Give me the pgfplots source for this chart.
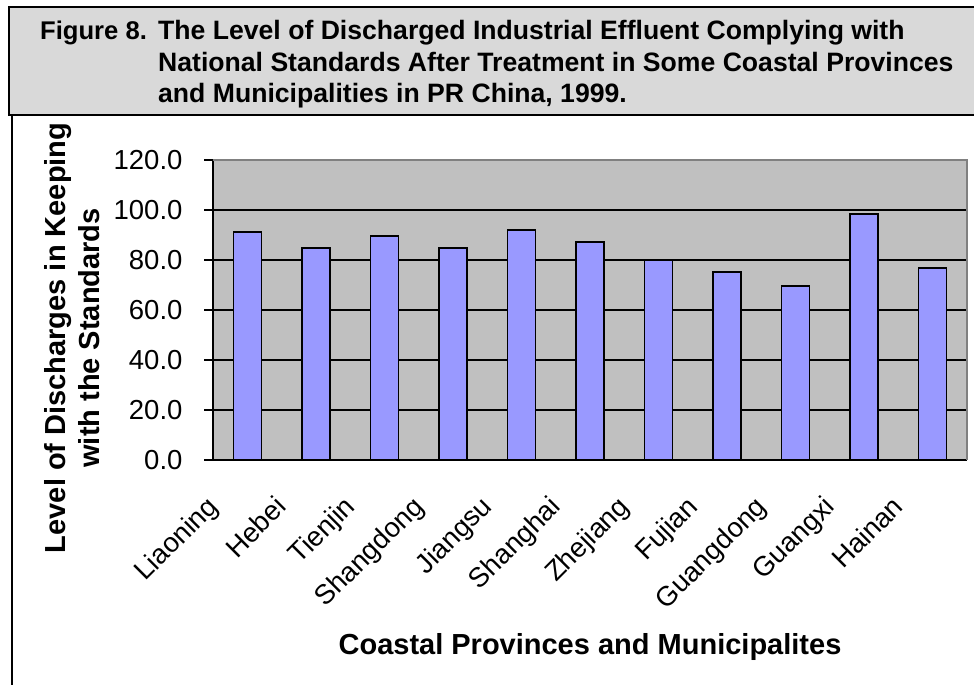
\documentclass[border=0pt]{standalone}
\usepackage{fontspec}
\setmainfont{Liberation Sans}
\usepackage{pgfplots}
\pgfplotsset{compat=1.18}

\definecolor{titlegray}{HTML}{D9D9D9}
\definecolor{plotgray}{HTML}{C0C0C0}
\definecolor{framegray}{HTML}{808080}
\definecolor{barblue}{HTML}{9999FF}

\begin{document}
\begin{tikzpicture}
\useasboundingbox (0pt,0pt) rectangle (974pt,685pt);

% title panel and chart frame
\begin{scope}[x=1pt,y=1pt]
\draw[line width=2pt, fill=titlegray] (9,677.5) rectangle (1000,569.5);
\draw[line width=2pt] (12,569.5) -- (12,-20);
\begin{scope}[font=\fontsize{26.6}{31.5}\selectfont\bfseries]
  \node[anchor=base west, inner sep=0, font=\fontsize{25.6}{31.5}\selectfont\bfseries] at (40,645) {Figure 8.};
  \node[anchor=base west, inner sep=0] at (158,645) {The Level of Discharged Industrial Effluent Complying with};
  \node[anchor=base west, inner sep=0] at (158,613.3) {National Standards After Treatment in Some Coastal Provinces};
  \node[anchor=base west, inner sep=0] at (158,582) {and Municipalities in PR China, 1999.};
\end{scope}
\end{scope}

\begin{axis}[
  at={(213pt,225pt)}, anchor=south west,
  scale only axis, width=754pt, height=300pt,
  xmin=-0.5, xmax=10.5, ymin=0, ymax=120,
  axis x line*=bottom, axis y line*=left,
  axis line style={black, line width=1.5pt},
  axis background/.style={fill=plotgray},
  ytick={0,20,...,120},
  xtick={0,...,10},
  xticklabels={Liaoning,Hebei,Tienjin,Shangdong,Jiangsu,Shanghai,Zhejiang,Fujian,Guangdong,Guangxi,Hainan},
  minor xtick={-0.5,0.5,...,10.5},
  tick align=outside,
  major tick length=9pt, minor tick length=9pt,
  xtick style={draw=none},
  minor x tick style={black, line width=1.5pt},
  y tick style={black, line width=1.5pt},
  ymajorgrids,
  major grid style={black, line width=1.3pt},
  /pgf/number format/assume math mode=true,
  tick label style={font=\fontsize{27.5}{32}\selectfont},
  y tick label style={/pgf/number format/.cd, fixed, fixed zerofill, precision=1, /tikz/.cd, xshift=-18pt},
  x tick label style={xshift=-42pt, yshift=-25pt, rotate=45, anchor=north east, inner sep=0pt},
  xlabel={Coastal Provinces and Municipalites},
  xlabel style={font=\fontsize{29}{34}\selectfont\bfseries, at={(axis description cs:0.5,0)}, anchor=base, yshift=-194pt},
  ylabel={Level of Discharges in Keeping\\with the Standards},
  ylabel style={font=\fontsize{29}{34}\selectfont\bfseries, align=center, at={(axis description cs:-0.187,0.407)}, anchor=center},
  clip=false,
]
\addplot[ybar, bar width=28pt, fill=barblue, draw=black, line width=1.5pt]
  coordinates {
    (0,91.2) (1,84.7) (2,89.5) (3,84.7) (4,91.9) (5,87.1)
    (6,79.9) (7,75.1) (8,69.5) (9,98.4) (10,76.8)
  };
% grey frame on the top and right of the plot area
\draw[framegray, line width=1.5pt] (rel axis cs:0,1) -- (rel axis cs:1,1) -- (rel axis cs:1,0);
\end{axis}
\end{tikzpicture}
\end{document}
